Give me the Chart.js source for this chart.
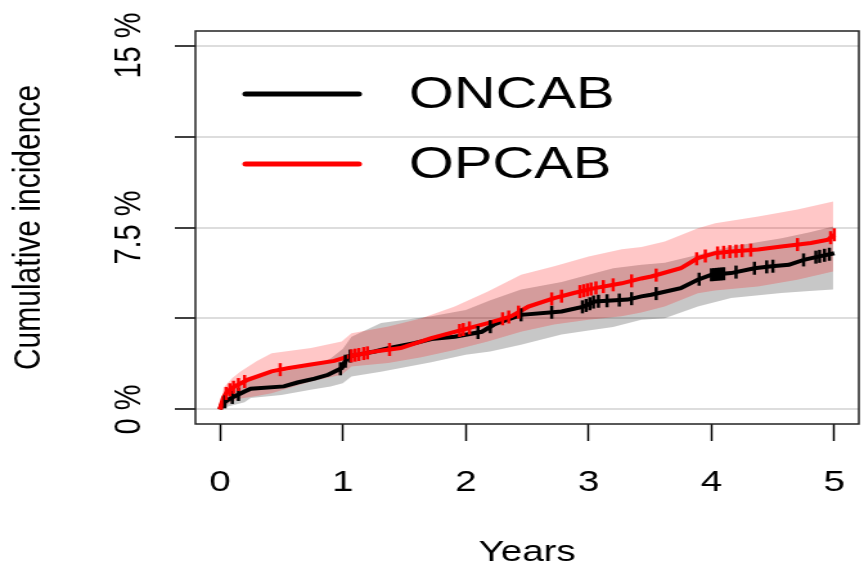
<!DOCTYPE html>
<html>
<head>
<meta charset="utf-8">
<script src="https://cdn.jsdelivr.net/npm/chart.js@4.4.1/dist/chart.umd.min.js"></script>
<style>
  html, body { margin: 0; padding: 0; background: #fff; }
</style>
</head>
<body>
<canvas id="kmChart" width="672" height="565" style="width:864px;height:565px"></canvas>
<script>
// axis ticks
var xTicks = [0, 1, 2, 3, 4, 5];
var yTicks = [0, 3.75, 7.5, 11.25, 15];
var yTickLabels = ['0 %', '', '7.5 %', '', '15 %'];
var groups = ['ONCAB', 'OPCAB'];

// cumulative incidence curves (years, %)
var oncabTime = [0, 0.02, 0.09, 0.2, 0.25, 0.52, 0.63, 0.77, 0.88, 0.99, 1.04, 1.26, 1.37, 1.58, 1.72, 1.91, 2.13, 2.23, 2.45, 2.78, 2.96, 3.05, 3.32, 3.43, 3.51, 3.75, 3.89, 4.0, 4.16, 4.35, 4.49, 4.63, 4.76, 4.87, 5.0];
var oncabInc = [0, 0.25, 0.47, 0.74, 0.85, 0.95, 1.11, 1.27, 1.43, 1.7, 2.18, 2.39, 2.53, 2.73, 2.9, 3.0, 3.2, 3.5, 3.9, 4.04, 4.24, 4.45, 4.53, 4.66, 4.73, 5.0, 5.35, 5.55, 5.62, 5.82, 5.9, 5.96, 6.18, 6.3, 6.44];

var opcabTime = [0, 0.03, 0.06, 0.12, 0.23, 0.42, 0.55, 0.74, 0.93, 1.04, 1.26, 1.47, 1.72, 1.91, 2.18, 2.37, 2.51, 2.72, 2.88, 3.05, 3.27, 3.43, 3.51, 3.75, 3.89, 4.03, 4.16, 4.38, 4.57, 4.81, 4.95, 5.0];
var opcabInc = [0, 0.5, 0.74, 0.95, 1.23, 1.57, 1.7, 1.85, 2.0, 2.18, 2.39, 2.53, 2.94, 3.2, 3.56, 3.84, 4.24, 4.59, 4.8, 5.0, 5.2, 5.4, 5.48, 5.82, 6.24, 6.44, 6.51, 6.59, 6.72, 6.86, 7.0, 7.2];

// confidence bands
var oncabBandTime = [0, 0.05, 0.2, 0.25, 0.5, 0.75, 0.9, 1.0, 1.07, 1.31, 1.72, 2.0, 2.2, 2.45, 2.78, 3.0, 3.2, 3.43, 3.62, 3.89, 4.16, 4.57, 4.8, 4.99];
var oncabUpper = [0, 0.6, 1.3, 1.35, 1.55, 1.8, 2.1, 2.5, 3.0, 3.56, 3.84, 4.1, 4.5, 4.94, 5.25, 5.55, 5.82, 5.96, 6.05, 6.38, 6.72, 7.06, 7.3, 7.54];
var oncabLower = [0, 0.1, 0.3, 0.47, 0.6, 0.82, 0.95, 1.08, 1.36, 1.55, 1.95, 2.25, 2.39, 2.67, 3.09, 3.25, 3.4, 3.7, 3.76, 4.24, 4.59, 4.8, 4.88, 4.94];

var opcabBandTime = [0, 0.03, 0.1, 0.17, 0.3, 0.42, 0.74, 0.99, 1.07, 1.37, 1.64, 1.91, 2.18, 2.45, 2.72, 3.0, 3.27, 3.43, 3.62, 3.89, 4.03, 4.38, 4.7, 4.99];
var opcabUpper = [0, 0.9, 1.3, 1.57, 2.0, 2.32, 2.53, 2.8, 3.14, 3.42, 3.76, 4.24, 4.86, 5.55, 5.9, 6.3, 6.6, 6.7, 6.92, 7.47, 7.68, 7.95, 8.24, 8.57];
var opcabLower = [0, 0.1, 0.33, 0.45, 0.55, 0.67, 1.15, 1.43, 1.77, 1.91, 2.15, 2.45, 2.8, 3.2, 3.5, 3.7, 3.84, 4.0, 4.24, 4.79, 4.9, 5.07, 5.35, 5.69];

// censoring times
var oncabCensor = [0.04, 0.1, 0.15, 0.98, 1.02, 1.06, 2.1, 2.2, 2.45, 2.7, 2.95, 2.98, 3.01, 3.04, 3.08, 3.15, 3.25, 3.35, 3.55, 3.9, 4.0, 4.02, 4.04, 4.06, 4.08, 4.1, 4.2, 4.35, 4.45, 4.5, 4.75, 4.85, 4.88, 4.92, 4.96];
var opcabCensor = [0.05, 0.08, 0.11, 0.15, 0.2, 0.49, 1.07, 1.1, 1.13, 1.17, 1.2, 1.38, 1.95, 1.98, 2.03, 2.3, 2.35, 2.43, 2.7, 2.78, 2.93, 2.96, 2.99, 3.02, 3.06, 3.12, 3.2, 3.35, 3.55, 3.88, 3.95, 4.05, 4.1, 4.15, 4.2, 4.25, 4.32, 4.7, 4.97, 5.0];

var font = "'Liberation Sans', Arial, sans-serif";

function pts(times, vals) {
	return times.map(function (t, i) { return { x: t, y: vals[i] }; });
}

// where the drawn curve passes at time t
function curveAt(times, vals, t) {
	for (var i = 1; i < times.length; i++) {
		if (t <= times[i]) {
			var f = (t - times[i - 1]) / (times[i] - times[i - 1]);
			return vals[i - 1] + f * (vals[i] - vals[i - 1]);
		}
	}
	return vals[vals.length - 1];
}

function censorPts(censor, times, vals) {
	return censor.map(function (t) { return { x: t, y: curveAt(times, vals, t) }; });
}

function band(data, color, fill, order) {
	return {
		data: data, showLine: true, pointRadius: 0,
		borderWidth: 0.01, borderColor: 'transparent', backgroundColor: color,
		fill: fill, order: order
	};
}

function curve(data, color, order) {
	return {
		data: data, showLine: true, pointRadius: 0,
		borderWidth: 4, borderColor: color, fill: false, order: order
	};
}

function marks(data, color, order) {
	return {
		data: data, showLine: false, pointStyle: 'line', rotation: 90,
		pointRadius: 6.5, borderWidth: 2.5, borderColor: color, order: order
	};
}

// no extra padding for labels hanging over the plot edges
function noOverhang(s) {
	s.paddingLeft = 0; s.paddingRight = 0; s.paddingTop = 0; s.paddingBottom = 0;
}

// frame around the plot and legend inside it
var framePlugin = {
	id: 'frame',
	afterDatasetsDraw: function (chart) {
		var a = chart.chartArea, ctx = chart.ctx;
		ctx.save();
		ctx.strokeStyle = '#222';
		ctx.lineWidth = 1.5;
		ctx.strokeRect(a.left, a.top, a.right - a.left, a.bottom - a.top);

		var colors = ['#000000', '#ff0000'];
		ctx.font = '45px ' + font;
		ctx.textBaseline = 'middle';
		ctx.fillStyle = '#000';
		ctx.lineCap = 'round';
		ctx.lineWidth = 5;
		for (var i = 0; i < groups.length; i++) {
			var y = a.top + 63 + i * 70;
			ctx.strokeStyle = colors[i];
			ctx.beginPath();
			ctx.moveTo(a.left + 39, y);
			ctx.lineTo(a.left + 127, y);
			ctx.stroke();
			ctx.fillText(groups[i], a.left + 166, y + 2);
		}
		ctx.restore();
	}
};

var config = {
	type: 'scatter',
	data: {
		datasets: [
			band(pts(oncabBandTime, oncabUpper), 'rgba(0,0,0,0.22)', '+1', 6),
			band(pts(oncabBandTime, oncabLower), 'rgba(0,0,0,0.22)', false, 6),
			band(pts(opcabBandTime, opcabUpper), 'rgba(255,0,0,0.22)', '+1', 5),
			band(pts(opcabBandTime, opcabLower), 'rgba(255,0,0,0.22)', false, 5),
			curve(pts(oncabTime, oncabInc), '#000000', 3),
			curve(pts(opcabTime, opcabInc), '#ff0000', 2),
			marks(censorPts(oncabCensor, oncabTime, oncabInc), '#000000', 1),
			marks(censorPts(opcabCensor, opcabTime, opcabInc), '#ff0000', 0)
		]
	},
	options: {
		responsive: false,
		devicePixelRatio: 1,
		animation: false,
		layout: { autoPadding: false, padding: { left: 0, top: 31, right: 4, bottom: 0 } },
		plugins: { legend: { display: false }, tooltip: { enabled: false } },
		scales: {
			x: {
				type: 'linear', min: -0.2, max: 5.2,
				afterFit: function (s) { s.height = 141; noOverhang(s); },
				afterBuildTicks: function (s) { s.ticks = xTicks.map(function (v) { return { value: v }; }); },
				border: { display: false },
				grid: { drawOnChartArea: false, tickColor: '#000', tickLength: 17, tickWidth: 1.5 },
				ticks: { color: '#000', font: { family: font, size: 30 }, padding: 24, maxRotation: 0 },
				title: { display: true, text: 'Years', color: '#000', font: { family: font, size: 30 }, padding: { top: 0, bottom: -6 } }
			},
			y: {
				type: 'linear', min: -0.6, max: 15.6,
				afterFit: function (s) { s.width = 152; noOverhang(s); },
				afterBuildTicks: function (s) { s.ticks = yTicks.map(function (v) { return { value: v }; }); },
				border: { display: false },
				grid: { color: '#dddddd', lineWidth: 2, tickColor: '#000', tickLength: 16, tickWidth: 1.5 },
				ticks: {
					color: '#000', font: { family: font, size: 29 }, padding: -2,
					minRotation: 90, maxRotation: 90, crossAlign: 'center',
					callback: function (v, i) { return yTickLabels[i]; }
				},
				title: { display: true, text: 'Cumulative incidence', color: '#000', font: { family: font, size: 30 }, padding: { top: 5, bottom: 0 } }
			}
		}
	},
	plugins: [framePlugin]
};

var myChart = new Chart(document.getElementById('kmChart'), config);
</script>
</body>
</html>
